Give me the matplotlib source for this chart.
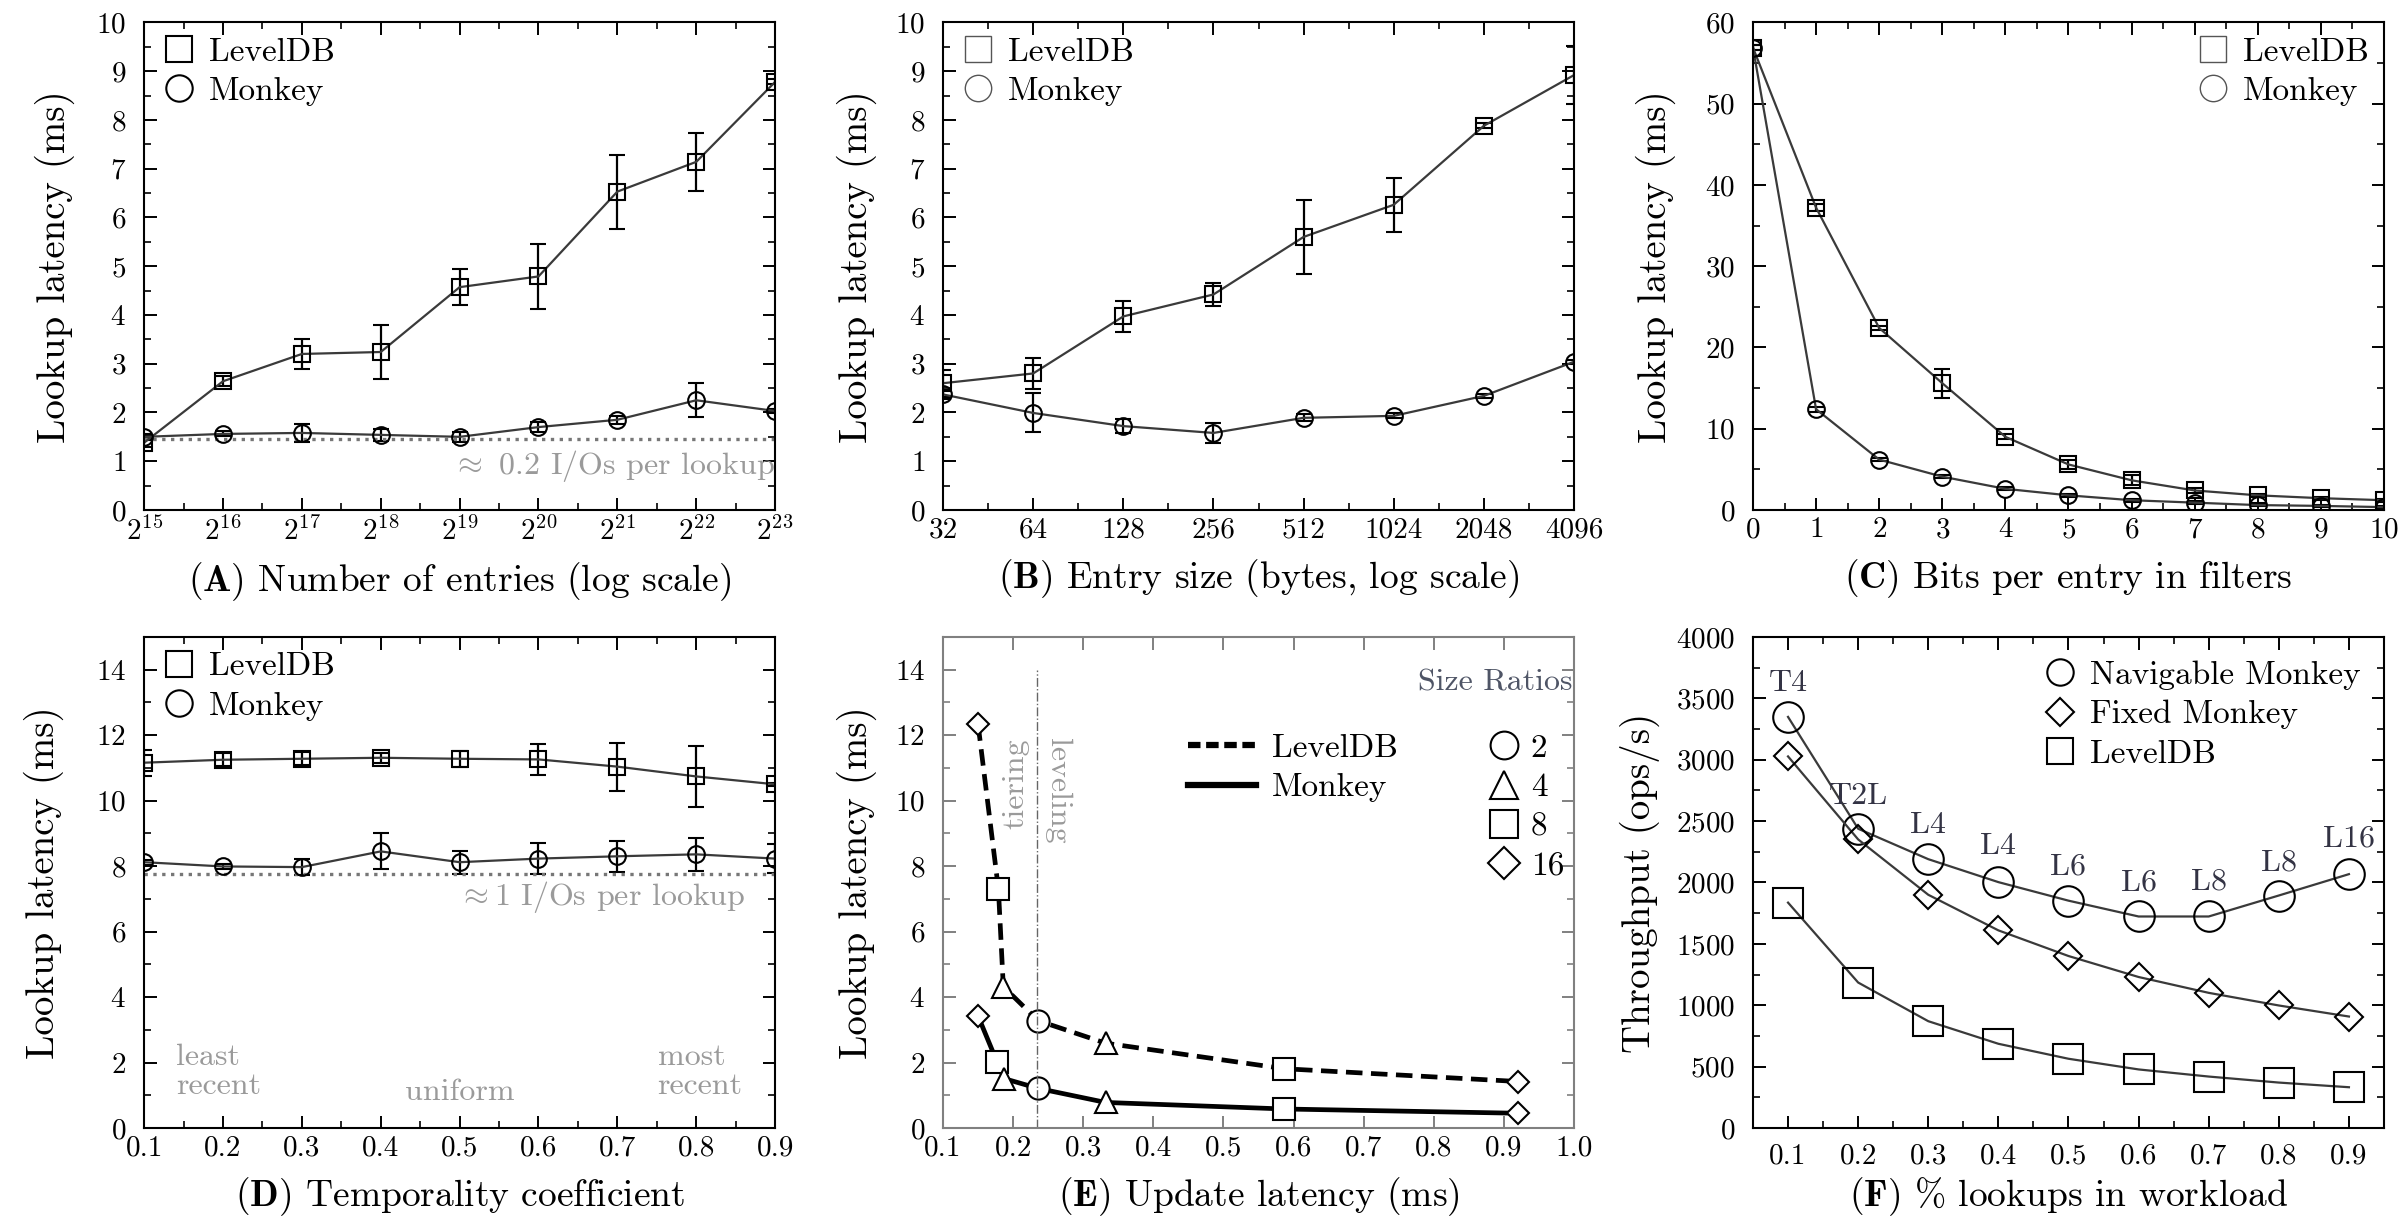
import matplotlib
matplotlib.use('Agg')
import matplotlib.pyplot as plt
from matplotlib.lines import Line2D
from matplotlib.ticker import FixedLocator, FixedFormatter, MultipleLocator, FormatStrFormatter

plt.rcParams['font.family'] = 'serif'
plt.rcParams['font.serif'] = ['cmr10']
plt.rcParams['mathtext.fontset'] = 'cm'
plt.rcParams['axes.unicode_minus'] = False
plt.rcParams['axes.formatter.use_mathtext'] = True

# (A) number of entries
entries = [2**15, 2**16, 2**17, 2**18, 2**19, 2**20, 2**21, 2**22, 2**23]
a_level = [1.38, 2.64, 3.20, 3.24, 4.57, 4.79, 6.53, 7.14, 8.78]
a_level_err = [0.08, 0.10, 0.31, 0.55, 0.37, 0.67, 0.76, 0.59, 0.05]
a_monkey = [1.50, 1.56, 1.58, 1.54, 1.50, 1.70, 1.85, 2.25, 2.03]
a_monkey_err = [0.06, 0.05, 0.19, 0.12, 0.10, 0.10, 0.08, 0.35, 0.04]
a_floor = 1.46

# (B) entry size
entry_size = [32, 64, 128, 256, 512, 1024, 2048, 4096]
b_level = [2.60, 2.80, 3.97, 4.42, 5.60, 6.26, 7.88, 8.92]
b_level_err = [0.28, 0.32, 0.32, 0.24, 0.75, 0.55, 0.05, 0.60]
b_monkey = [2.37, 1.99, 1.72, 1.58, 1.89, 1.93, 2.34, 3.04]
b_monkey_err = [0.10, 0.40, 0.15, 0.20, 0.07, 0.05, 0.04, 0.04]

# (C) bits per entry
bits = [0, 1, 2, 3, 4, 5, 6, 7, 8, 9, 10]
c_level = [56.9, 37.2, 22.4, 15.6, 9.0, 5.6, 3.65, 2.4, 1.8, 1.45, 1.2]
c_level_err = [0.3, 0.4, 0.3, 1.8, 0.3, 0.6, 0.6, 0.3, 0.2, 0.2, 0.2]
c_monkey = [56.9, 12.4, 6.2, 4.1, 2.6, 1.8, 1.2, 0.9, 0.6, 0.5, 0.35]
c_monkey_err = [0.3, 0.3, 0.2, 0.2, 0.2, 0.2, 0.2, 0.2, 0.1, 0.1, 0.1]

# (D) temporality
temporality = [0.1, 0.2, 0.3, 0.4, 0.5, 0.6, 0.7, 0.8, 0.9]
d_level = [11.16, 11.25, 11.28, 11.31, 11.28, 11.26, 11.04, 10.74, 10.50]
d_level_err = [0.40, 0.20, 0.20, 0.15, 0.25, 0.47, 0.73, 0.92, 0.05]
d_monkey = [8.12, 7.99, 7.97, 8.45, 8.12, 8.23, 8.30, 8.36, 8.23]
d_monkey_err = [0.08, 0.08, 0.25, 0.55, 0.35, 0.47, 0.48, 0.50, 0.45]
d_floor = 7.76

# (E) update vs lookup latency, points ordered by update latency
e_markers = ['D', 's', '^', 'o', '^', 's', 'D']
e_level_x = [0.150, 0.179, 0.186, 0.2355, 0.332, 0.587, 0.920]
e_level_y = [12.33, 7.30, 4.32, 3.28, 2.59, 1.81, 1.42]
e_monkey_x = [0.150, 0.177, 0.187, 0.2355, 0.332, 0.587, 0.920]
e_monkey_y = [3.42, 2.02, 1.51, 1.21, 0.78, 0.58, 0.45]
e_split = 0.234
size_ratios = ['2', '4', '8', '16']
size_markers = ['o', '^', 's', 'D']

# (F) throughput
lookups = [0.1, 0.2, 0.3, 0.4, 0.5, 0.6, 0.7, 0.8, 0.9]
f_nav = [3349, 2438, 2190, 2003, 1852, 1723, 1723, 1894, 2068]
f_fixed = [3027, 2351, 1900, 1610, 1401, 1230, 1101, 998, 908]
f_level = [1836, 1185, 870, 686, 564, 477, 419, 370, 332]
f_tags = ['T4', 'T2L', 'L4', 'L4', 'L6', 'L6', 'L8', 'L8', 'L16']
f_tag_y = [3623, 2705, 2464, 2293, 2132, 1997, 2003, 2158, 2358]

LINE = '#3a3a3a'
GRAY = '#9a9a9a'
TICK_FS = 21
LAB_FS = 27
YLAB_FS = 28
LEG_FS = 24
NOTE_FS = 23

fig = plt.figure(figsize=(24.02, 12.25), dpi=100)
W = 0.2627
TOP_B, TOP_H = 0.5837, 0.3980
BOT_B, BOT_H = 0.0792, 0.4008
axA = fig.add_axes([0.0600, TOP_B, W, TOP_H])
axB = fig.add_axes([0.3926, TOP_B, W, TOP_H])
axC = fig.add_axes([0.7298, TOP_B, W, TOP_H])
axD = fig.add_axes([0.0600, BOT_B, W, BOT_H])
axE = fig.add_axes([0.3926, BOT_B, W, BOT_H])
axF = fig.add_axes([0.7298, BOT_B, W, BOT_H])


def style(ax, xlabel, ylabel, ypad, spine='black', xtick_pad=5, xpad=10):
    ax.tick_params(which='both', direction='in', top=True, right=True,
                   labelsize=TICK_FS, colors=spine, labelcolor='black')
    ax.tick_params(which='major', length=9, width=1.4)
    ax.tick_params(which='minor', length=5, width=1.2)
    ax.tick_params(axis='y', which='major', pad=13)
    ax.tick_params(axis='x', which='major', pad=xtick_pad)
    for s in ax.spines.values():
        s.set_color(spine)
        s.set_linewidth(1.5)
    ax.set_xlabel(xlabel, fontsize=LAB_FS, labelpad=xpad)
    ax.set_ylabel(ylabel, fontsize=YLAB_FS, labelpad=ypad)


def series(ax, x, y, err, marker):
    ax.errorbar(x, y, yerr=err, color=LINE, lw=1.6, marker=marker, ms=12,
                mfc='none', mec='black', mew=1.5, ecolor='black',
                elinewidth=1.6, capsize=5.5, capthick=1.6)


def pair_legend(ax, loc, faint=False):
    ec = '#555555' if faint else 'black'
    mw = 1.0 if faint else 1.5
    h = [Line2D([], [], ls='none', marker='s', ms=19, mfc='none', mec=ec, mew=mw),
         Line2D([], [], ls='none', marker='o', ms=19, mfc='none', mec=ec, mew=mw)]
    ax.legend(h, ['LevelDB', 'Monkey'], loc=loc, frameon=False, fontsize=LEG_FS,
              handlelength=1.2, handletextpad=0.3, labelspacing=0.3,
              borderaxespad=0.15, borderpad=0.3)


ylab = 'Lookup latency (ms)'

# A
series(axA, entries, a_level, a_level_err, 's')
series(axA, entries, a_monkey, a_monkey_err, 'o')
axA.set_xscale('log', base=2)
axA.set_xlim(entries[0], entries[-1])
axA.set_ylim(0, 10)
axA.xaxis.set_major_locator(FixedLocator(entries))
axA.xaxis.set_major_formatter(FixedFormatter([r'$2^{%d}$' % k for k in range(15, 24)]))
axA.xaxis.set_minor_locator(FixedLocator([e * 2**0.5 for e in entries[:-1]]))
axA.xaxis.set_minor_formatter(FixedFormatter([]))
axA.yaxis.set_major_locator(MultipleLocator(1))
axA.yaxis.set_minor_locator(MultipleLocator(0.5))
axA.axhline(a_floor, color='#777777', ls=':', lw=2.4)
axA.text(entries[-1], 0.9, r'$\approx$ 0.2 I/Os per lookup', color=GRAY,
         fontsize=NOTE_FS, ha='right', va='center')
pair_legend(axA, 'upper left')
style(axA, r'$\mathbf{(A)}$ Number of entries (log scale)', ylab, 15)

# B
series(axB, entry_size, b_level, b_level_err, 's')
series(axB, entry_size, b_monkey, b_monkey_err, 'o')
axB.set_xscale('log', base=2)
axB.set_xlim(entry_size[0], entry_size[-1])
axB.set_ylim(0, 10)
axB.xaxis.set_major_locator(FixedLocator(entry_size))
axB.xaxis.set_major_formatter(FixedFormatter([str(v) for v in entry_size]))
axB.xaxis.set_minor_locator(FixedLocator([e * 2**0.5 for e in entry_size[:-1]]))
axB.xaxis.set_minor_formatter(FixedFormatter([]))
axB.yaxis.set_major_locator(MultipleLocator(1))
axB.yaxis.set_minor_locator(MultipleLocator(0.5))
pair_legend(axB, 'upper left', faint=True)
style(axB, r'$\mathbf{(B)}$ Entry size (bytes, log scale)', ylab, 13)

# C
series(axC, bits, c_level, c_level_err, 's')
series(axC, bits, c_monkey, c_monkey_err, 'o')
axC.set_xlim(0, 10)
axC.set_ylim(0, 60)
axC.xaxis.set_major_locator(MultipleLocator(1))
axC.xaxis.set_minor_locator(MultipleLocator(0.5))
axC.yaxis.set_major_locator(MultipleLocator(10))
axC.yaxis.set_minor_locator(MultipleLocator(5))
pair_legend(axC, 'upper right', faint=True)
style(axC, r'$\mathbf{(C)}$ Bits per entry in filters', ylab, 21)

# D
series(axD, temporality, d_level, d_level_err, 's')
series(axD, temporality, d_monkey, d_monkey_err, 'o')
axD.set_xlim(0.1, 0.9)
axD.set_ylim(0, 15)
axD.xaxis.set_major_locator(MultipleLocator(0.1))
axD.xaxis.set_minor_locator(MultipleLocator(0.05))
axD.xaxis.set_major_formatter(FormatStrFormatter('%.1f'))
axD.yaxis.set_major_locator(MultipleLocator(2))
axD.yaxis.set_minor_locator(MultipleLocator(1))
axD.axhline(d_floor, color='#777777', ls=':', lw=2.4)
axD.text(0.862, 7.06, r'$\approx$1 I/Os per lookup', color=GRAY,
         fontsize=NOTE_FS, ha='right', va='center')
axD.text(0.1406, 1.72, 'least\nrecent', color=GRAY, fontsize=NOTE_FS,
         ha='left', va='center', linespacing=1.05)
axD.text(0.5, 1.1, 'uniform', color=GRAY, fontsize=NOTE_FS,
         ha='center', va='center')
axD.text(0.751, 1.72, 'most\nrecent', color=GRAY, fontsize=NOTE_FS,
         ha='left', va='center', linespacing=1.05)
pair_legend(axD, 'upper left')
style(axD, r'$\mathbf{(D)}$ Temporality coefficient', ylab, 23)

# E
axE.plot(e_level_x, e_level_y, color='black', lw=3.4, ls=(0, (3.5, 1.8)))
axE.plot(e_monkey_x, e_monkey_y, color='black', lw=3.4)
for xv, yv, m in zip(e_level_x, e_level_y, e_markers):
    axE.plot(xv, yv, ls='none', marker=m, ms=16 if m != 'D' else 11,
             mfc='white', mec='black', mew=1.5)
for xv, yv, m in zip(e_monkey_x, e_monkey_y, e_markers):
    axE.plot(xv, yv, ls='none', marker=m, ms=16 if m != 'D' else 11,
             mfc='white', mec='black', mew=1.5)
axE.plot([e_split, e_split], [0, 14], color='#666666', lw=1.0, ls='-.')
axE.text(0.204, 11.9, 'tiering', rotation=90, color=GRAY, fontsize=NOTE_FS,
         ha='center', va='top')
axE.text(0.263, 11.9, 'leveling', rotation=-90, color=GRAY, fontsize=NOTE_FS,
         ha='center', va='top')
axE.set_xlim(0.1, 1.0)
axE.set_ylim(0, 15)
axE.xaxis.set_major_locator(MultipleLocator(0.1))
axE.xaxis.set_major_formatter(FormatStrFormatter('%.1f'))
axE.yaxis.set_major_locator(MultipleLocator(2))
axE.yaxis.set_minor_locator(MultipleLocator(1))
leg1 = axE.legend([Line2D([], [], color='black', lw=4.5, ls=(0, (2.0, 0.9))),
                   Line2D([], [], color='black', lw=4.5)],
                  ['LevelDB', 'Monkey'], loc='upper left',
                  bbox_to_anchor=(0.34, 0.864), frameon=False, fontsize=LEG_FS,
                  handlelength=2.06, handletextpad=0.48, labelspacing=0.3)
axE.add_artist(leg1)
axE.legend([Line2D([], [], ls='none', marker=m, ms=20 if m != 'D' else 16,
                   mfc='none', mec='black', mew=1.5) for m in size_markers],
           size_ratios, loc='upper left', bbox_to_anchor=(0.81, 0.864),
           frameon=False, fontsize=LEG_FS, handlelength=1.2, handletextpad=0.2,
           labelspacing=0.3)
axE.text(0.998, 13.6, 'Size Ratios', color='#4f5566', fontsize=NOTE_FS,
         ha='right', va='center')
style(axE, r'$\mathbf{(E)}$ Update latency (ms)', ylab, 13, spine='#808080')

# F
axF.plot(lookups, f_nav, color=LINE, lw=1.6, marker='o', ms=22,
         mfc='none', mec='black', mew=1.5)
axF.plot(lookups, f_fixed, color=LINE, lw=1.6, marker='D', ms=14,
         mfc='none', mec='black', mew=1.5)
axF.plot(lookups, f_level, color=LINE, lw=1.6, marker='s', ms=22,
         mfc='none', mec='black', mew=1.5)
for xv, yv, t in zip(lookups, f_tag_y, f_tags):
    axF.text(xv, yv, t, fontsize=NOTE_FS, color='#333344', ha='center', va='center')
axF.set_xlim(0.05, 0.95)
axF.set_ylim(0, 4000)
axF.xaxis.set_major_locator(FixedLocator(lookups))
axF.xaxis.set_major_formatter(FormatStrFormatter('%.1f'))
axF.xaxis.set_minor_locator(FixedLocator([v + 0.05 for v in lookups[:-1]]))
axF.yaxis.set_major_locator(MultipleLocator(500))
axF.yaxis.set_minor_locator(MultipleLocator(250))
axF.legend([Line2D([], [], ls='none', marker='o', ms=19, mfc='none', mec='black', mew=1.5),
            Line2D([], [], ls='none', marker='D', ms=14, mfc='none', mec='black', mew=1.5),
            Line2D([], [], ls='none', marker='s', ms=19, mfc='none', mec='black', mew=1.5)],
           ['Navigable Monkey', 'Fixed Monkey', 'LevelDB'], loc='upper right',
           frameon=False, fontsize=LEG_FS, handlelength=1.2, handletextpad=0.3,
           labelspacing=0.3, borderaxespad=0.3)
style(axF, r'$\mathbf{(F)}$ % lookups in workload', 'Throughput (ops/s)', 11,
      xtick_pad=11, xpad=4)

fig.savefig('out.png', dpi=100)
